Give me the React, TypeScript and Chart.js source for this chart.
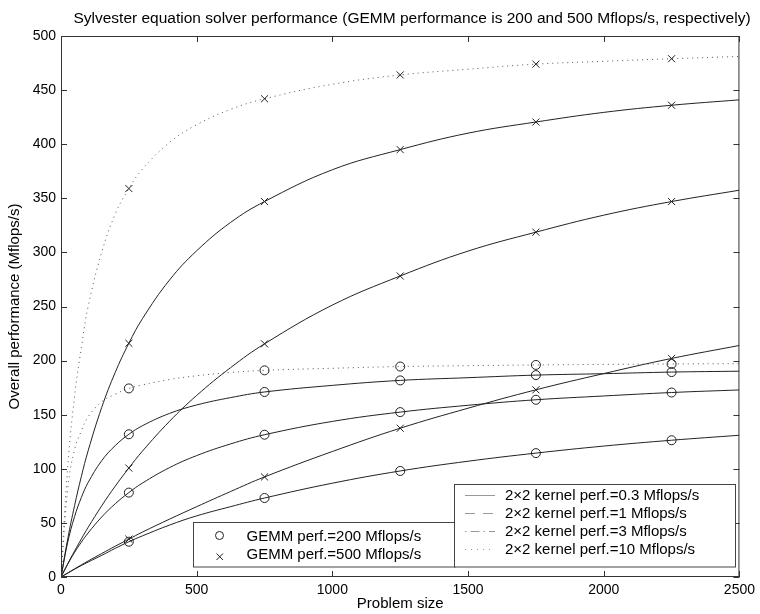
import React, { useEffect, useRef } from 'react';
import { Chart, registerables } from 'chart.js';

Chart.register(...registerables);

// Problem sizes at which the curves are read, and where markers sit
const problemSizes = [0, 25, 50, 75, 100, 150, 200, 250, 300, 400, 500, 625, 750, 1000, 1250, 1500, 1750, 2000, 2250, 2500];
const markerSizes = [250, 750, 1250, 1750, 2250];

// GEMM performance 200 Mflops/s (circles)
const gemm200k03 = [0, 3.6, 7.2, 10.6, 13.8, 20, 26.5, 32.6, 38, 48, 56.5, 65, 73, 86.7, 98, 107, 114.5, 121, 126.4, 131];
const gemm200k1 = [0, 12, 22.7, 32.2, 40.7, 55.5, 67.7, 78, 86.8, 101.1, 112.2, 123, 131.5, 143.8, 152.4, 158.7, 163.8, 167.3, 170.5, 172.9];
const gemm200k3 = [0, 32.4, 55.8, 73.5, 87.3, 107.5, 121.5, 131.9, 139.8, 151.2, 159, 165.8, 171, 177.1, 181.7, 184.2, 186.6, 187.9, 189.4, 190.2];
const gemm200k10 = [0, 82, 118, 135, 148, 162, 169, 174.3, 177.5, 182.5, 186, 189, 191, 192.9, 194.5, 195.3, 196, 196.5, 196.9, 197.2];

// GEMM performance 500 Mflops/s (crosses)
const gemm500k03 = [0, 3.8, 7.5, 11.2, 14.8, 21.7, 28.5, 35, 41.5, 53.5, 65, 79, 92.5, 116, 137.5, 156, 173, 188, 202, 214];
const gemm500k1 = [0, 12.3, 24, 35.2, 45.9, 65.8, 84, 100.7, 116.3, 143.9, 167.8, 193.5, 215.5, 251.3, 278.2, 301.2, 318.7, 334.4, 347, 357.5];
const gemm500k3 = [0, 35.4, 66, 92.9, 116.7, 156.7, 189.2, 216, 238.7, 274.5, 301.5, 327.7, 347, 376.4, 395, 410.2, 420.5, 429.4, 436, 441];
const gemm500k10 = [0, 103, 167, 212, 250, 300, 335.6, 359, 376.9, 401.6, 418, 432.2, 442, 455.4, 464, 469.3, 474, 476.6, 479, 481.1];

const xTicks = [0, 500, 1000, 1500, 2000, 2500];
const yTicks = [0, 50, 100, 150, 200, 250, 300, 350, 400, 450, 500];

const titleText = 'Sylvester equation solver performance (GEMM performance is 200 and 500 Mflops/s, respectively)';
const xTitle = 'Problem size';
const yTitle = 'Overall performance (Mflops/s)';
const markerLegend = ['GEMM perf.=200 Mflops/s', 'GEMM perf.=500 Mflops/s'];
const lineLegend = [
  '2\u00d72 kernel perf.=0.3 Mflops/s',
  '2\u00d72 kernel perf.=1 Mflops/s',
  '2\u00d72 kernel perf.=3 Mflops/s',
  '2\u00d72 kernel perf.=10 Mflops/s',
];

const FONT = '"Liberation Sans", Arial, Helvetica, sans-serif';

export default function App() {
  const ref = useRef<HTMLCanvasElement>(null);

  useEffect(() => {
    const canvas = ref.current!;
    const mk = (label: string, values: number[], dotted: boolean, marker: string) => ({
      label,
      data: problemSizes.map((x, i) => ({ x, y: values[i] })),
      borderColor: dotted ? '#555555' : '#222222',
      borderWidth: 1,
      borderDash: dotted ? [1, 4] : [],
      tension: 0.4,
      fill: false,
      pointStyle: marker,
      pointRadius: (c: any) =>
        c.raw && markerSizes.includes(c.raw.x) ? (marker === 'circle' ? 4.5 : 5) : 0,
      pointHoverRadius: 0,
      pointBorderColor: '#222222',
      pointBackgroundColor: 'rgba(0,0,0,0)',
      pointBorderWidth: 1,
    });

    const datasets = [
      mk('200 / 0.3', gemm200k03, false, 'circle'),
      mk('200 / 1', gemm200k1, false, 'circle'),
      mk('200 / 3', gemm200k3, false, 'circle'),
      mk('200 / 10', gemm200k10, true, 'circle'),
      mk('500 / 0.3', gemm500k03, false, 'crossRot'),
      mk('500 / 1', gemm500k1, false, 'crossRot'),
      mk('500 / 3', gemm500k3, false, 'crossRot'),
      mk('500 / 10', gemm500k10, true, 'crossRot'),
    ];

    const overlay = {
      id: 'overlay',
      beforeDraw(chart: any) {
        const ctx = chart.ctx;
        ctx.save();
        ctx.fillStyle = '#ffffff';
        ctx.fillRect(0, 0, chart.width, chart.height);
        ctx.restore();
      },
      afterDraw(chart: any) {
        const ctx = chart.ctx as CanvasRenderingContext2D;
        const ca = chart.chartArea;
        const xs = chart.scales.x;
        const ys = chart.scales.y;
        ctx.save();
        // axes box
        ctx.strokeStyle = '#333333';
        ctx.lineWidth = 1;
        ctx.strokeRect(ca.left + 0.5, ca.top + 0.5, ca.right - ca.left - 1, ca.bottom - ca.top - 1);
        // inward ticks
        const tl = 6;
        ctx.beginPath();
        xTicks.forEach((v) => {
          const px = Math.round(xs.getPixelForValue(v)) + 0.5;
          ctx.moveTo(px, ca.bottom);
          ctx.lineTo(px, ca.bottom - tl);
          ctx.moveTo(px, ca.top);
          ctx.lineTo(px, ca.top + tl);
        });
        yTicks.forEach((v) => {
          const py = Math.round(ys.getPixelForValue(v)) + 0.5;
          ctx.moveTo(ca.left, py);
          ctx.lineTo(ca.left + tl, py);
          ctx.moveTo(ca.right, py);
          ctx.lineTo(ca.right - tl, py);
        });
        ctx.stroke();

        // title
        ctx.fillStyle = '#000000';
        ctx.font = `15.5px ${FONT}`;
        ctx.textAlign = 'center';
        ctx.textBaseline = 'alphabetic';
        ctx.fillText(titleText, 412, 23);
        ctx.font = `15px ${FONT}`;
        // x title
        ctx.fillText(xTitle, (ca.left + ca.right) / 2, 608);
        // y title
        ctx.save();
        ctx.translate(19, (ca.top + ca.bottom) / 2);
        ctx.rotate(-Math.PI / 2);
        ctx.fillText(yTitle, 0, 0);
        ctx.restore();

        // marker legend
        ctx.fillStyle = '#ffffff';
        ctx.fillRect(193.5, 522.5, 261.5, 44.5);
        ctx.strokeStyle = '#444444';
        ctx.strokeRect(193.5, 522.5, 261.5, 44.5);
        ctx.strokeStyle = '#222222';
        ctx.beginPath();
        ctx.arc(219.5, 535.5, 4, 0, Math.PI * 2);
        ctx.stroke();
        ctx.beginPath();
        ctx.moveTo(216.5, 553.5);
        ctx.lineTo(223, 560);
        ctx.moveTo(223, 553.5);
        ctx.lineTo(216.5, 560);
        ctx.stroke();
        ctx.fillStyle = '#000000';
        ctx.textAlign = 'left';
        ctx.textBaseline = 'middle';
        ctx.fillText(markerLegend[0], 246.5, 536.5);
        ctx.fillText(markerLegend[1], 246.5, 554.5);

        // line style legend
        ctx.fillStyle = '#ffffff';
        ctx.fillRect(454.5, 484.5, 281, 82.5);
        ctx.strokeStyle = '#444444';
        ctx.strokeRect(454.5, 484.5, 281, 82.5);
        const rows = [495.5, 513.5, 531.5, 549.5];
        const dashes = [[], [10, 8], [1.5, 4, 9, 4], [1, 5]];
        ctx.strokeStyle = '#999999';
        rows.forEach((ry, i) => {
          ctx.setLineDash(dashes[i]);
          ctx.beginPath();
          ctx.moveTo(465, ry);
          ctx.lineTo(495, ry);
          ctx.stroke();
        });
        ctx.setLineDash([]);
        ctx.fillStyle = '#000000';
        rows.forEach((ry, i) => {
          ctx.fillText(lineLegend[i], 505, ry);
        });
        ctx.restore();
      },
    };

    const chart = new Chart(canvas, {
      type: 'line',
      data: { datasets: datasets as any },
      options: {
        responsive: false,
        animation: false,
        devicePixelRatio: 1,
        layout: { padding: { top: 36, right: 18, left: 0, bottom: 0 } },
        plugins: {
          legend: { display: false },
          title: { display: false },
          tooltip: { enabled: false },
        },
        scales: {
          x: {
            type: 'linear',
            min: 0,
            max: 2500,
            ticks: {
              stepSize: 500,
              font: { family: FONT, size: 14 },
              color: '#000000',
              padding: 5,
              maxRotation: 0,
              autoSkip: false,
              callback: (v: any) => String(v),
            },
            grid: { display: false, drawTicks: false },
            border: { display: false },
            afterFit: (s: any) => {
              s.height = 37;
            },
          },
          y: {
            min: 0,
            max: 500,
            ticks: {
              stepSize: 50,
              font: { family: FONT, size: 14 },
              color: '#000000',
              padding: 5,
              autoSkip: false,
              callback: (v: any) => String(v),
            },
            grid: { display: false, drawTicks: false },
            border: { display: false },
            afterFit: (s: any) => {
              s.width = 61;
            },
          },
        },
      },
      plugins: [overlay],
    });

    return () => {
      chart.destroy();
    };
  }, []);

  return (
    <div style={{ position: 'fixed', left: 0, top: 0, width: 760, height: 614, background: '#fff' }}>
      <canvas ref={ref} width={760} height={614} style={{ display: 'block', width: 760, height: 614 }} />
    </div>
  );
}
